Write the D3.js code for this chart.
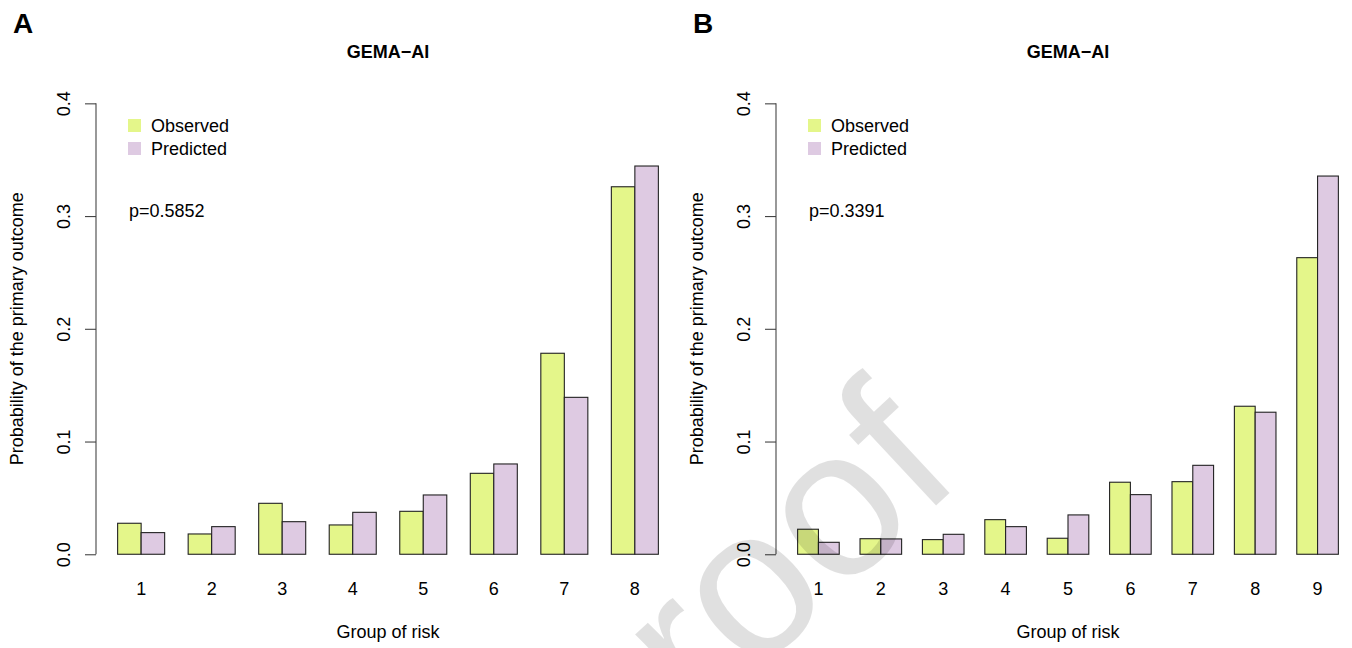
<!DOCTYPE html>
<html>
<head>
<meta charset="utf-8">
<script src="https://cdn.jsdelivr.net/npm/d3@7"></script>
<style>
  html, body { margin: 0; padding: 0; background: #fff; }
  svg { display: block; font-family: "Liberation Sans", Arial, Helvetica, sans-serif; }
</style>
</head>
<body>
<svg id="chart" width="1352" height="648"></svg>
<script>
// ---- data ----
const groupsA = ["1", "2", "3", "4", "5", "6", "7", "8"];
const observedA = [0.0275, 0.0180, 0.0452, 0.0260, 0.0381, 0.0718, 0.1783, 0.3260];
const predictedA = [0.0192, 0.0245, 0.0289, 0.0372, 0.0526, 0.0801, 0.1392, 0.3444];

const groupsB = ["1", "2", "3", "4", "5", "6", "7", "8", "9"];
const observedB = [0.0222, 0.0138, 0.0130, 0.0307, 0.0142, 0.0639, 0.0644, 0.1313, 0.2631];
const predictedB = [0.0106, 0.0136, 0.0177, 0.0245, 0.0349, 0.0529, 0.0789, 0.1260, 0.3355];

const yTicks = [0, 0.1, 0.2, 0.3, 0.4];
const seriesNames = ["Observed", "Predicted"];
const seriesColors = ["#E4F68A", "#DECAE2"];
const panelLetters = ["A", "B"];
const panelTitles = ["GEMA\u2212AI", "GEMA\u2212AI"];
const pLabels = ["p=0.5852", "p=0.3391"];
const xTitle = "Group of risk";
const yTitle = "Probability of the primary outcome";
const watermark = "proof";

// ---- layout ----
const svg = d3.select("#chart");
const plotTop = 85.3, plotBottom = 572.3, plotWidth = 584;
const FS = 18;

const y = d3.scaleLinear().domain([-0.016, 0.416]).range([plotBottom, plotTop]);

function drawPanel(idx, left, groups, obs, pred) {
  const n = groups.length;
  const span = 3 * n - 1;
  const ext = 0.04 * span;
  const x = d3.scaleLinear().domain([1 - ext, 3 * n + ext]).range([left, left + plotWidth]);
  const g = svg.append("g");
  const center = left + plotWidth / 2;

  // bars
  const rows = groups.map((gname, i) => ({ i, gname, vals: [obs[i], pred[i]] }));
  const grp = g.selectAll("g.grp").data(rows).enter().append("g");
  grp.selectAll("rect").data(d => d.vals.map((v, k) => ({ v, k, i: d.i })))
    .enter().append("rect")
    .attr("x", d => x(1 + 3 * d.i + d.k))
    .attr("width", d => x(2 + 3 * d.i + d.k) - x(1 + 3 * d.i + d.k))
    .attr("y", d => y(d.v))
    .attr("height", d => y(0) - y(d.v))
    .attr("fill", d => seriesColors[d.k])
    .attr("stroke", "#222")
    .attr("stroke-width", 1.1);

  // y axis
  const yAxis = d3.axisLeft(y).tickValues(yTicks).tickSize(11).tickSizeOuter(0)
    .tickFormat(d3.format(".1f"));
  const ya = g.append("g").attr("transform", `translate(${left},0)`).call(yAxis);
  ya.select(".domain").remove();
  ya.selectAll(".tick line").attr("stroke", "#444").attr("stroke-width", 1.1);
  ya.selectAll(".tick text")
    .attr("x", null).attr("dy", null).attr("y", null)
    .attr("text-anchor", "middle")
    .attr("transform", "translate(-26.5,0) rotate(-90)")
    .attr("font-size", FS).attr("fill", "#000")
    .attr("font-family", "Liberation Sans, Arial, sans-serif");
  ya.append("line")
    .attr("x1", 0).attr("x2", 0)
    .attr("y1", y(yTicks[0])).attr("y2", y(yTicks[yTicks.length - 1]))
    .attr("stroke", "#444").attr("stroke-width", 1.1);

  // x axis labels (names under group centres)
  const xc = d3.scaleOrdinal().domain(groups).range(groups.map((_, i) => x(2 + 3 * i)));
  const xa = g.append("g").attr("transform", `translate(0,${y(0)})`);
  xa.selectAll("text").data(groups).enter().append("text")
    .attr("x", d => xc(d)).attr("y", 41)
    .attr("text-anchor", "middle").attr("font-size", FS).text(d => d);

  // axis titles
  g.append("text").attr("x", center).attr("y", 638)
    .attr("text-anchor", "middle").attr("font-size", FS).text(xTitle);
  g.append("text")
    .attr("transform", `translate(${left - 73},${(plotTop + plotBottom) / 2}) rotate(-90)`)
    .attr("text-anchor", "middle").attr("font-size", FS).text(yTitle);

  // main title
  g.append("text").attr("x", center).attr("y", 58)
    .attr("text-anchor", "middle").attr("font-size", FS).attr("font-weight", "bold")
    .text(panelTitles[idx]);

  // panel letter
  g.append("text").attr("x", left - 83).attr("y", 33)
    .attr("font-size", 28).attr("font-weight", "bold").text(panelLetters[idx]);

  // legend
  const lg = g.append("g").attr("transform", `translate(${left + 32},0)`);
  seriesNames.forEach((s, k) => {
    const cy = 125.5 + k * 23;
    lg.append("rect").attr("x", 0).attr("y", cy - 6.5).attr("width", 13).attr("height", 13)
      .attr("fill", seriesColors[k]);
    lg.append("text").attr("x", 23).attr("y", cy + 6.5).attr("font-size", FS).text(s);
  });

  // p value
  g.append("text").attr("x", left + 33).attr("y", 217).attr("font-size", FS).text(pLabels[idx]);
}

drawPanel(0, 96, groupsA, observedA, predictedA);
drawPanel(1, 776, groupsB, observedB, predictedB);

// watermark (partially visible "proof", drawn semi-transparent on top)
svg.append("text")
  .attr("transform", "translate(615,805) rotate(-43)")
  .attr("font-size", 210)
  .attr("fill", "#000")
  .attr("fill-opacity", 0.12)
  .attr("font-family", "Liberation Sans, Arial, sans-serif")
  .text(watermark);
</script>
</body>
</html>
